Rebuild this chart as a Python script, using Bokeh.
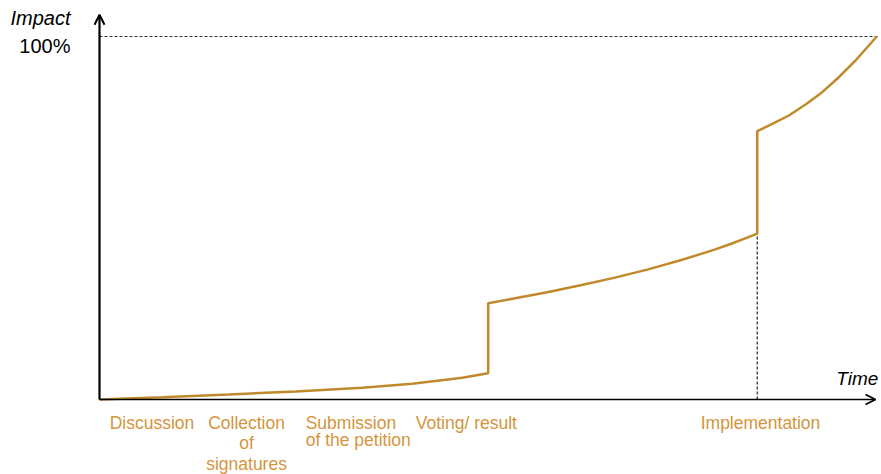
from bokeh.plotting import figure
from bokeh.models import Range1d, Arrow, OpenHead, ColumnDataSource
from bokeh.core.properties import value
from bokeh.embed import file_html
from bokeh.resources import INLINE

# ---- data (time 0..100, impact 0..100 %) ----
time = [0, 8.06, 16.62, 25.19, 33.77, 40.19, 46.62, 49.96,
        49.96, 53.25, 57.54, 61.83, 66.11, 70.40, 74.68, 78.96, 81.11, 83.25, 84.54,
        84.54, 86.47, 88.60, 90.75, 92.89, 95.03, 97.17, 98.88, 99.9]
impact = [0, 0.63, 1.38, 2.20, 3.22, 4.32, 5.97, 7.25,
          26.53, 27.81, 29.57, 31.46, 33.51, 35.78, 38.35, 41.22, 42.83, 44.58, 45.72,
          73.91, 75.95, 78.24, 81.27, 84.66, 88.79, 93.39, 97.52, 100]

stage_lines = [["Discussion"],
               ["Collection", "of", "signatures"],
               ["Submission", "of the petition"],
               ["Voting/ result"],
               ["Implementation"]]
stage_time = [6.75, 18.9, 26.5, 47.15, 84.96]
stage_align = ["center", "center", "left", "center", "center"]
stage_spacing = [20, 20.5, 17, 20, 20]

implementation_time = 84.54
implementation_impact = 73.91
full_impact = 100
y_label = "Impact"
x_label = "Time"
full_label = "100%"

LINE = "#C08A2C"
LABEL = "#D4953C"
FONT = "Liberation Sans"

p = figure(width=881, height=474, output_backend="svg", toolbar_location=None,
           x_range=Range1d(-12.725, 100.51), y_range=Range1d(-20.66, 109.92),
           min_border=0)
p.axis.visible = False
p.grid.visible = False
p.outline_line_color = None
p.background_fill_color = "white"
p.border_fill_color = "white"

# dashed guides
p.line([0, 100], [full_impact, full_impact], line_color="#333333",
       line_width=1, line_dash="3 2")
p.line([implementation_time, implementation_time], [0, implementation_impact],
       line_color="#333333", line_width=1.3, line_dash="3 2")

# axes arrows
p.add_layout(Arrow(end=OpenHead(size=10, line_width=2, line_color="black"),
                   x_start=0, y_start=0, x_end=0, y_end=106.0,
                   line_width=2.2, line_color="black"))
p.add_layout(Arrow(end=OpenHead(size=10, line_width=1.8, line_color="black"),
                   x_start=0, y_start=0, x_end=99.74, y_end=0,
                   line_width=1.5, line_color="black"))

# impact curve
p.line(time, impact, line_color=LINE, line_width=2.5)

# axis texts
p.text(x=[-3.73], y=[105.2], text=[y_label], text_align="right",
       text_baseline="middle", text_font=value(FONT), text_font_size=value("20px"),
       text_font_style="italic", text_color="black")
p.text(x=[-3.73], y=[97.3], text=[full_label], text_align="right",
       text_baseline="middle", text_font=value(FONT), text_font_size=value("20px"),
       text_color="black")
p.text(x=[100.1], y=[5.8], text=[x_label], text_align="right",
       text_baseline="middle", text_font=value(FONT), text_font_size=value("19px"),
       text_font_style="italic", text_color="black")

# stage labels
xs, ys, txt, offs, aligns = [], [], [], [], []
for lines, t, al, sp in zip(stage_lines, stage_time, stage_align, stage_spacing):
    for j, s in enumerate(lines):
        xs.append(t)
        ys.append(0)
        txt.append(s)
        offs.append(23 + j * sp)
        aligns.append(al)
src = ColumnDataSource(dict(x=xs, y=ys, text=txt, off=offs, align=aligns))
p.text(x="x", y="y", text="text", y_offset="off", text_align="align", source=src,
       text_baseline="middle", text_font=value(FONT), text_font_size=value("17.5px"),
       text_color=LABEL)

open("out.html", "w").write(file_html(p, INLINE))
